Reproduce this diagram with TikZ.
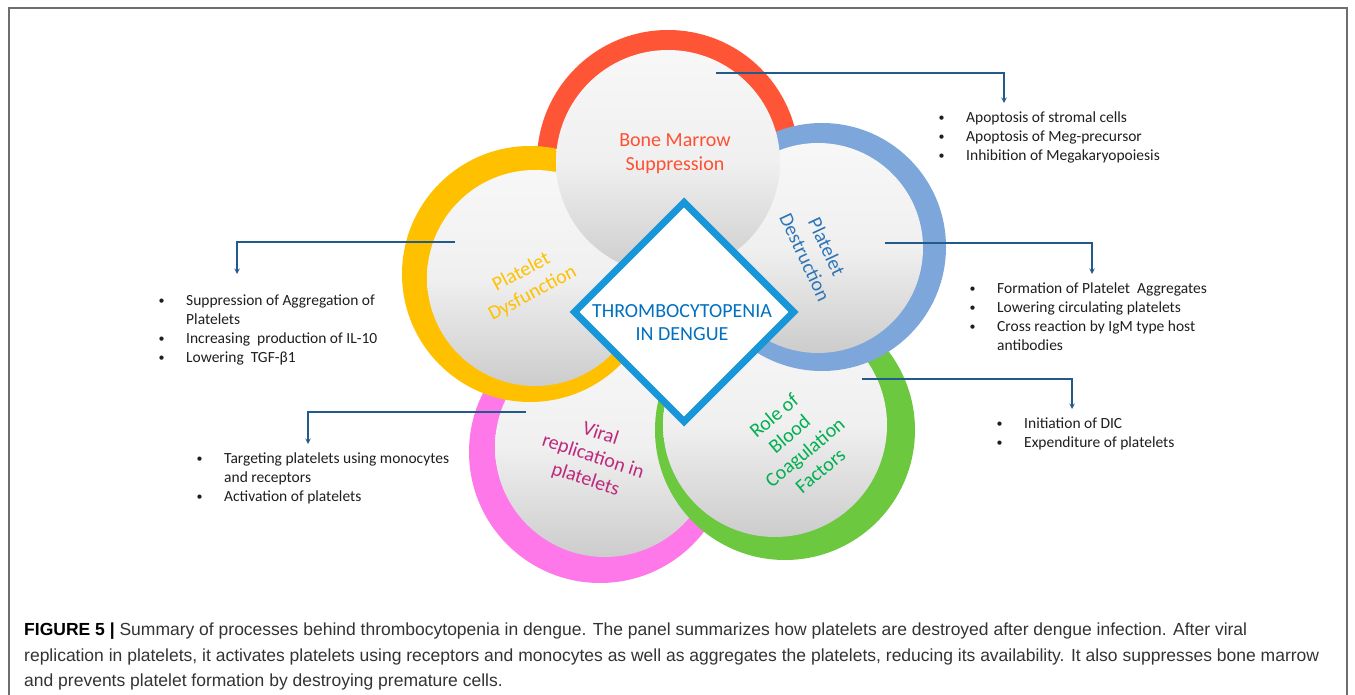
\documentclass[tikz,border=0pt]{standalone}
\usepackage{fontspec}
\setmainfont{Carlito}
\newfontfamily\capfont{Liberation Sans}
\usepackage{tikz}
\usetikzlibrary{arrows,shapes,positioning}
\usepackage{xcolor}
\definecolor{tcred}{RGB}{255,85,55}
\definecolor{tcyellow}{RGB}{255,192,0}
\definecolor{tcblue}{RGB}{125,166,219}
\definecolor{tcgreen}{RGB}{108,200,62}
\definecolor{tcpink}{RGB}{255,120,234}
\definecolor{tcredtxt}{RGB}{255,80,50}
\definecolor{tcbluetxt}{RGB}{46,117,182}
\definecolor{tcgreentxt}{RGB}{0,176,80}
\definecolor{tcpinktxt}{RGB}{190,40,125}
\definecolor{tchub}{RGB}{25,150,215}
\definecolor{tchubtxt}{RGB}{0,112,192}
\definecolor{tclink}{RGB}{35,90,140}
\definecolor{tctext}{RGB}{30,30,30}
\definecolor{tcframe}{RGB}{110,110,110}
\tikzstyle{link} = [line width=1.4pt,->,>=stealth,color=tclink]
\tikzstyle{ball} = [circle,inner sep=0pt,top color=white!97!black,bottom color=white!80!black,middle color=white!94!black]
\tikzstyle{title} = [align=center,font=\fontsize{20}{24}\selectfont]
\tikzstyle{bullets} = [align=left,anchor=north west,inner sep=0pt,text=tctext,font=\fontsize{15.5}{19}\selectfont]
\newcommand{\tcbullet}{\makebox[28pt][l]{\hspace{0.5pt}\raisebox{0.6pt}{\fontsize{12}{12}\selectfont\textbullet}}}
\newcommand{\tcindent}{\hspace*{28pt}}

\begin{document}
\begin{tikzpicture}[x=1pt,y=-1pt]
\useasboundingbox (0,0) rectangle (1355,695);
% Frame
\draw[tcframe, line width=1.5pt] (9,695) -- (9,8) -- (1347,8) -- (1347,695);

% Petals
\fill[tcpink] (600,452) circle[radius=131pt];
\node[ball, minimum size=220pt] (vrball) at (605,447) {};
\fill[tcgreen] (785,430) circle[radius=130pt];
\node[ball, minimum size=224pt] (bcball) at (775,425) {};
\fill[tcred] (668,161) circle[radius=131pt];
\fill[tcyellow] (530,274) circle[radius=128pt];
\node[ball, minimum size=216pt] (dyball) at (535,278) {};
\fill[tcblue] (822,247) circle[radius=124pt];
\node[ball, minimum size=210pt] (pdball) at (818,248) {};
\node[ball, minimum size=224pt] (bmball) at (668,162) {};

% Centre
\node[diamond, aspect=1, draw=tchub, fill=white, line width=7pt, minimum width=222pt, minimum height=222pt, inner sep=0pt] (hub) at (684,312) {};
\node[align=center, text=tchubtxt, font=\fontsize{20}{23}\selectfont] (hubtxt) at (682,323) {THROMBOCYTOPENIA\\IN DENGUE};

% Labels
\node[title, text=tcredtxt] (bmtitle) at (675,154) {Bone Marrow\\Suppression};
\node[title, text=tcyellow, rotate=28] (dytitle) at (527,283) {Platelet\\Dysfunction};
\node[title, text=tcbluetxt, rotate=-65] (pdtitle) at (816,252) {Platelet\\Destruction};
\node[title, text=tcgreentxt, rotate=40] (bctitle) at (797,443) {Role of\\Blood\\Coagulation\\Factors};
\node[title, text=tcpinktxt, rotate=-18] (vrtitle) at (593,457) {Viral\\replication in\\platelets};

% Connectors
\coordinate (bm-from) at (716,73);
\coordinate (bm-to) at (1004,103);
\coordinate (pd-from) at (885,243);
\coordinate (pd-to) at (1092,274);
\coordinate (bc-from) at (862,379);
\coordinate (bc-to) at (1072,409);
\coordinate (dy-from) at (455,242);
\coordinate (dy-to) at (237,274);
\coordinate (vr-from) at (526,412);
\coordinate (vr-to) at (308,444);
\draw[link] (bm-from) -| (bm-to);
\draw[link] (pd-from) -| (pd-to);
\draw[link] (bc-from) -| (bc-to);
\draw[link] (dy-from) -| (dy-to);
\draw[link] (vr-from) -| (vr-to);

% Lists
\node[bullets] (bmlist) at (938,109) {\strut\tcbullet Apoptosis of stromal cells\\
  \tcbullet Apoptosis of Meg-precursor\\
  \tcbullet Inhibition of Megakaryopoiesis};
\node[bullets] (pdlist) at (969,280) {\strut\tcbullet Formation of Platelet\ \ Aggregates\\
  \tcbullet Lowering circulating platelets\\
  \tcbullet Cross reaction by IgM type host\\
  \tcindent antibodies};
\node[bullets] (bclist) at (996,415) {\strut\tcbullet Initiation of DIC\\
  \tcbullet Expenditure of platelets};
\node[bullets] (dylist) at (158,292) {\strut\tcbullet Suppression of Aggregation of\\
  \tcindent Platelets\\
  \tcbullet Increasing\ \ production of IL-10\\
  \tcbullet Lowering\ \ TGF-β1};
\node[bullets] (vrlist) at (196,450) {\strut\tcbullet Targeting platelets using monocytes\\
  \tcindent and receptors\\
  \tcbullet Activation of platelets};

% Caption
\node[anchor=north west, align=left, inner sep=0pt, text=black!80, font=\capfont\fontsize{17.5}{25.5}\selectfont] (caption) at (24,623) {\textcolor{black}{\textbf{FIGURE 5 |}} Summary of processes behind thrombocytopenia in dengue. The panel summarizes how platelets are destroyed after dengue infection. After viral\\
replication in platelets, it activates platelets using receptors and monocytes as well as aggregates the platelets, reducing its availability. It also suppresses bone marrow\\
and prevents platelet formation by destroying premature cells.};
\end{tikzpicture}
\end{document}
